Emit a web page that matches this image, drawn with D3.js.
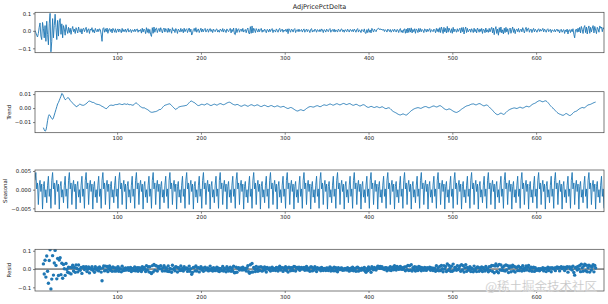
<!DOCTYPE html>
<meta charset="utf-8">
<style>
body { margin: 0; background: #fff; }
svg { display: block; }
.axis text { font: 5.4px "DejaVu Sans", sans-serif; fill: #222; }
.axis .domain { display: none; }
.axis line { stroke: #333; stroke-width: 0.6; }
.frame { fill: none; stroke: #444; stroke-width: 0.7; }
.ylab { font: 5.4px "DejaVu Sans", sans-serif; fill: #222; }
</style>
<html>
  <head>
    <script src="https://cdn.jsdelivr.net/npm/d3@7"></script>
  </head>
  <body>
    <script>
var width = 608, height = 304;

// observed AdjPricePctDelta, units of 0.001, index 2..681
var observedRaw = [
  2, -10, -25, -35, -15, 20, 45, -30, -50, 48, 15, -40, 30, -60, 55, -20, -80, 40, 100, -120,
  -60, 70, -40, 30, 95, 20, -50, 60, -30, 50, 70, -20, 40, -40, 30, 10, -25, 35, 5, -15,
  20, -10, 15, -20, 8, 25, -5, 10, -15, 18, 5, -12, 22, 0, -8, 12, -18, 10, 15, -5,
  8, 20, -10, 5, 12, -15, 10, 3, 18, -8, 6, -12, 14, 2, -6, 10, -4, 12, 5, -20,
  -60, 12, 18, -8, 12, -5, 16, -14, 6, 13, -4, 10, -12, 14, 5, -8, 12, -10, 3, 11,
  -7, 10, 3, -11, 14, -5, 7, -4, 10, -8, 5, 13, -7, 2, 8, -10, 5, 4, -5, 10,
  -4, 7, 11, -8, 5, -2, 8, -13, 15, -7, 10, 4, -16, 18, -9, 12, -14, 8, -22, -32,
  18, -14, 22, -8, 12, 16, -10, 6, 14, -5, 18, 3, -12, 9, 16, -7, 13, 4, -9, 15,
  -8, 11, 3, -14, 18, 0, 7, -10, 13, 5, -15, 10, 3, -7, 14, -4, 8, -11, 15, -5,
  7, 12, -10, 5, 16, -7, 10, -24, -12, 8, 14, -4, 18, -8, 5, 11, -10, 3, 15, -7,
  10, -5, 8, 14, -7, 3, 11, -8, 5, 13, -4, 7, -10, 10, 2, -5, 8, 11, -7, 3,
  -8, 10, 5, -4, 13, -7, 8, 3, -10, 11, 2, -5, 7, 14, -12, 8, -4, 16, -18, -22,
  15, -10, 7, 12, -8, 5, 10, -4, 14, -7, 3, 8, -11, 7, 16, -12, -18, 24, -14, 28,
  -12, 15, 5, -10, 13, 3, -7, 11, -5, 8, 14, -8, 5, -4, 10, 2, -11, 8, 5, -7,
  10, -4, 7, 13, -10, 5, 2, -7, 11, 3, -8, 7, 14, -5, 3, 10, -8, 5, -2, 8,
  -5, 11, -16, 12, 3, -8, 10, 5, -7, 8, 13, -10, 3, 7, -5, 10, -4, 2, 8, -7,
  5, 11, -8, 3, 10, -5, 7, 2, -10, 8, 13, -7, 3, -4, 10, 5, -8, 7, 3, -5,
  8, -4, 11, 5, -10, 7, 3, -7, 10, 2, -5, 8, 13, -8, 3, 7, -4, 10, -7, 5,
  2, -7, 10, 3, -5, 8, 11, -4, 5, -8, 7, 3, -5, 10, 2, -7, 8, 5, -4, 7,
  -5, 10, 3, -8, 7, 13, -7, 5, 2, -10, 8, 3, -5, 11, -12, -15, 7, -10, 12, -8,
  5, -12, 14, 3, -7, 10, 2, -5, 8, 11, 15, 7, 12, 5, 10, 3, 8, -4, 7, 2,
  -7, 10, 5, -4, 8, -8, 3, 7, -5, 10, 2, -7, 8, 5, -10, 7, 13, -8, 3, -11,
  6, 12, -14, 10, -12, 16, -9, 14, -7, 17, -12, 8, -5, 12, -14, 11, 4, -10, 14, -6,
  13, -5, 8, 3, -10, 11, 7, -7, 10, -4, 5, 13, -8, 7, 2, -5, 10, 3, -11, 14,
  -4, 12, -8, 18, -10, 22, 5, -15, 20, -6, 14, -12, 25, -8, 16, 4, -10, 12, -14, 20,
  -6, 10, 3, -8, 12, -4, 6, 15, -12, 18, -5, 20, -18, 8, 22, -10, 14, -6, 3, 10,
  -8, 12, 3, -10, 15, -5, 8, -12, 16, 6, -8, 11, -4, 14, -15, 10, 5, -11, 16, -7,
  6, -9, 14, -6, 10, 20, -12, 16, -22, 8, 24, -15, 10, -25, 18, -8, 22, -12, 6, -18,
  15, -10, 20, -6, 12, -20, 8, 16, -14, 5, 22, -9, 12, -16, 6, 10, -5, 14, -8, 3,
  10, -6, 18, 4, -12, 8, 20, -4, 12, 15, -8, 6, 10, -10, 5, 14, -6, 9, 2, -8,
  6, 12, -4, 9, -2, 5, 14, -6, 10, 3, -8, 7, 12, -5, 4, 9, -10, 6, 2, -4,
  8, -6, 5, 10, -3, 6, -12, 4, 9, -8, 3, 7, -15, 5, -5, 10, -18, 4, 6, -10,
  8, -5, 12, -20, -40, 5, 10, -8, 15, -6, 20, -12, 25, 8, -15, 18, 30, -10, 22, -18,
  12, 28, -14, 20, -6, 15, 30, -12, 25, 5, -16, 20, 10, -8, 28, 15, 22, -5, 18, 10
];

// trend, units of 0.001, index 12..671
var trendRaw = [
  -14, -15.5, -16.5, -16, -13, -9, -6, -4.7, -5.5, -6.5, -7.5, -8, -7, -5, -3, -1, 1, 3, 4, 5.5,
  7, 8.5, 10.5, 10, 8.5, 7, 6, 6.2, 6.8, 7.5, 7.3, 6.5, 5.5, 4.8, 4, 3.5, 3, 2.3, 1.6, 1.2,
  1, 1.5, 2.2, 2.7, 2.7, 2.4, 2.1, 2, 2, 2.3, 2.7, 3, 3.6, 4.3, 4.8, 5, 4.8, 4.5, 4.2, 4,
  4, 3.6, 3.2, 2.9, 2.7, 2.6, 2.5, 2.3, 2, 1.6, 1.2, 1, 0.6, 0.2, -0.2, -0.4, -0.1, 0.6, 1.3, 1.8,
  2, 2.1, 2, 1.9, 2, 2.3, 2.5, 2.5, 2.5, 2.7, 2.9, 3, 2.8, 2.6, 2.5, 2.6, 2.9, 3, 2.8, 2.6,
  3, 2.8, 2.5, 2.4, 2.5, 2.3, 2.1, 2, 2.4, 3, 3.7, 3.6, 3.2, 2.6, 2, 1.5, 1, 0.6, 0.3, 0,
  0.3, 0, -0.4, -0.7, -1, -1.4, -1.9, -2.4, -2.8, -3, -3, -2.9, -2.7, -2.6, -2.5, -2.3, -2, -1.6, -1.2, -1,
  -1, -0.4, 0.3, 1, 1.6, 2, 2.2, 2.4, 2.6, 2.8, 3, 3, 2.5, 1.8, 1.2, 0.6, 0, -0.6, -1, -0.6,
  0, 0.5, 0.8, 1, 1.2, 1.3, 1.4, 1.5, 1.6, 1.7, 1.9, 2, 2.5, 3.2, 3.9, 4.5, 4.9, 5, 4.6, 4.2,
  4, 3.5, 3, 2.5, 2, 1.8, 1.9, 2.2, 2.5, 2.7, 2.6, 2.4, 2.2, 2.4, 2.8, 3.1, 3, 2.7, 2.3, 2,
  1.8, 2, 2.3, 2.6, 2.8, 2.6, 2.3, 2.1, 2.3, 2.7, 3, 3.2, 3.1, 2.8, 2.5, 2.4, 2.6, 2.9, 3.3, 3.6,
  3.9, 4.1, 4.2, 4, 3.6, 3.2, 2.8, 2.5, 2.3, 2.2, 2.4, 2.6, 2.5, 2.2, 1.8, 1.5, 1.3, 1.4, 1.7, 2,
  2.2, 2.1, 1.8, 1.5, 1.3, 1.5, 1.9, 2.2, 2.4, 2.3, 2, 1.7, 1.6, 1.8, 2.1, 2.3, 2.2, 1.9, 1.5, 1.2,
  1.1, 1.3, 1.6, 1.9, 2, 1.8, 1.5, 1.2, 1, 1.1, 1.4, 1.7, 1.8, 1.6, 1.3, 1, 0.9, 1.1, 1.4, 1.6,
  1.5, 1.2, 0.9, 0.7, 0.8, 1, 1.2, 1.1, 0.8, 0.4, 0.1, -0.2, -0.3, -0.1, 0.2, 0.4, 0.3, 0, -0.4, -0.8,
  -1.2, -1.6, -1.9, -2.1, -2, -1.7, -1.4, -1.2, -1.3, -1.6, -1.8, -1.7, -1.3, -0.8, -0.3, 0.1, 0.5, 0.8, 1, 1.1,
  1, 0.8, 0.7, 0.8, 1.1, 1.4, 1.6, 1.7, 1.5, 1.2, 1, 1.1, 1.4, 1.8, 2.1, 2.3, 2.2, 2, 1.9, 2.1,
  2.4, 2.7, 2.9, 2.8, 2.5, 2.2, 2.1, 2.3, 2.6, 2.9, 3.1, 3, 2.7, 2.4, 2.3, 2.5, 2.8, 3.1, 3.3, 3.2,
  2.9, 2.6, 2.5, 2.7, 3, 3.2, 3.1, 2.8, 2.4, 2.1, 2, 2.2, 2.5, 2.7, 2.6, 2.3, 1.9, 1.6, 1.5, 1.7,
  2, 2.3, 2.4, 2.2, 1.8, 1.3, 0.9, 0.6, 0.5, 0.7, 1, 1.2, 1.1, 0.8, 0.5, 0.4, 0.6, 0.9, 1, 0.8,
  0.5, 0.3, 0.4, 0.7, 0.9, 0.8, 0.4, 0, -0.3, -0.4, -0.2, 0.1, 0.2, 0, -0.5, -1.1, -1.7, -2.2, -2.6, -2.9,
  -3.2, -3.5, -3.9, -4.3, -4.6, -4.8, -4.9, -4.7, -4.4, -4.2, -4.3, -4.6, -4.9, -5, -4.7, -4.2, -3.6, -3, -2.4, -1.9,
  -1.5, -1.1, -0.7, -0.4, -0.2, 0, 0.2, 0.3, 0.2, 0, -0.2, -0.1, 0.2, 0.5, 0.8, 1, 1.1, 1, 0.7, 0.4,
  0.2, 0.3, 0.6, 0.9, 1.2, 1.4, 1.5, 1.3, 1, 0.8, 0.9, 1.2, 1.5, 1.7, 1.6, 1.2, 0.7, 0.2, -0.3, -0.7,
  -1, -1.2, -1.1, -0.8, -0.6, -0.7, -1, -1.4, -1.8, -2.2, -2.5, -2.8, -3, -3.1, -2.9, -2.6, -2.2, -1.8, -1.3, -0.8,
  -0.4, 0, 0.4, 0.8, 1.2, 1.5, 1.7, 1.8, 2, 2.3, 2.6, 2.8, 2.9, 3, 2.8, 2.5, 2.3, 2.4, 2.7, 3,
  3.2, 3.1, 2.8, 2.4, 2, 1.7, 1.6, 1.8, 2.1, 2.2, 1.9, 1.4, 0.8, 0.2, -0.4, -1, -1.6, -2.3, -3, -3.6,
  -4.1, -4.5, -4.7, -4.6, -4.2, -3.8, -3.6, -3.8, -4.2, -4.5, -4.3, -3.8, -3.2, -2.6, -2, -1.6, -1.2, -0.9, -0.6, -0.4,
  -0.2, 0, 0.1, 0, -0.2, -0.3, -0.1, 0.2, 0.5, 0.6, 0.4, 0.1, 0, 0.2, 0.5, 0.9, 1.2, 1.3, 1.1, 0.9,
  1, 1.4, 1.9, 2.4, 2.8, 3.1, 3.3, 3.6, 4, 4.4, 4.8, 5.1, 5.3, 5.2, 4.9, 4.6, 4.5, 4.7, 5, 5.2,
  5, 4.6, 4, 3.3, 2.5, 1.8, 1.1, 0.5, 0, -0.6, -1.2, -1.9, -2.5, -3.1, -3.6, -4, -4.3, -4.5, -4.8, -5,
  -5.2, -5, -4.6, -4.1, -3.9, -4.2, -4.6, -5, -5.3, -5.2, -4.8, -4.2, -3.6, -3, -2.6, -2.4, -2.2, -1.8, -1.3, -0.8,
  -0.4, -0.1, 0.2, 0.4, 0.3, 0.1, 0.3, 0.8, 1.3, 1.8, 2.2, 2.4, 2.5, 2.7, 3, 3.3, 3.6, 3.9, 4.1, 4.3
];

// one seasonal cycle (period 20), units of 0.0001
var seasonalCycle = [25, 46, 2, 18, -40, 10, 25, -5, 15, -52, 8, 22, -20, 0, -35, 12, 36, -18, 2, -50];

var firstIndex = 2, trendStart = 12;
var xTicks = [100, 200, 300, 400, 500, 600];
var titleText = "AdjPricePctDelta";
var panelLabels = [null, "Trend", "Seasonal", "Resid"];
var yTickSets = [[-0.1, 0, 0.1], [-0.01, 0, 0.01], [-0.005, 0, 0.005], [-0.1, 0, 0.1]];
var yFormats = [".1f", ".2f", ".3f", ".1f"];

var idx = d3.range(firstIndex, firstIndex + observedRaw.length);
var observed = observedRaw.map(v => v / 1000);
var seasonal = idx.map((d, i) => seasonalCycle[i % seasonalCycle.length] / 10000);
var trend = idx.map(d => (d >= trendStart && d < trendStart + trendRaw.length) ? trendRaw[d - trendStart] / 1000 : null);
var resid = idx.map((d, i) => trend[i] == null ? null : observed[i] - trend[i] - seasonal[i]);

var panels = [
  {values: observed, top: 12.3, bottom: 52.7, yDomain: [-0.125, 0.106], labelX: 0},
  {values: trend, top: 91.7, bottom: 132.7, yDomain: [-0.0176, 0.0117], labelX: 9.5},
  {values: seasonal, top: 170, bottom: 211.7, yDomain: [-0.0059, 0.00527], labelX: 5.5},
  {values: resid, top: 249.3, bottom: 291, yDomain: [-0.12, 0.108], labelX: 9.5, scatter: true}
];

var blue = "#1f77b4";
var x = d3.scaleLinear().domain([firstIndex, firstIndex + observedRaw.length - 1]).range([35, 604]);

var svg = d3.select("body").append("svg")
    .attr("width", width).attr("height", height);

var minus = s => s.replace("-", "\u2212");

panels.forEach(function(p, k) {
  var y = d3.scaleLinear().domain(p.yDomain).range([p.bottom, p.top]);
  var g = svg.append("g");
  var pts = idx.map((d, i) => [d, p.values[i]]);

  g.append("g").attr("class", "axis")
    .attr("transform", "translate(0," + p.bottom + ")")
    .call(d3.axisBottom(x).tickValues(xTicks).tickSize(2).tickPadding(1.8));

  g.append("g").attr("class", "axis")
    .attr("transform", "translate(35,0)")
    .call(d3.axisLeft(y).tickValues(yTickSets[k]).tickSize(2).tickPadding(1.8)
      .tickFormat(v => minus(d3.format(yFormats[k])(Math.abs(v) < 1e-12 ? 0 : v))));

  var clip = "clip" + k;
  svg.append("clipPath").attr("id", clip).append("rect")
    .attr("x", 35).attr("y", p.top).attr("width", 569).attr("height", p.bottom - p.top);

  var plot = g.append("g").attr("clip-path", "url(#" + clip + ")");

  if (p.scatter) {
    plot.append("line")
      .attr("x1", x.range()[0]).attr("x2", x.range()[1])
      .attr("y1", y(0)).attr("y2", y(0))
      .attr("stroke", "#000").attr("stroke-width", 0.8);
    plot.selectAll("circle").data(pts.filter(d => d[1] != null)).enter()
      .append("circle")
      .attr("cx", d => x(d[0])).attr("cy", d => y(d[1]))
      .attr("r", 1.7).attr("fill", blue);
  } else {
    plot.append("path").datum(pts)
      .attr("fill", "none").attr("stroke", blue).attr("stroke-width", 0.9)
      .attr("stroke-linejoin", "round")
      .attr("d", d3.line().defined(d => d[1] != null).x(d => x(d[0])).y(d => y(d[1])));
  }

  g.append("rect").attr("class", "frame")
    .attr("x", 35).attr("y", p.top).attr("width", 569).attr("height", p.bottom - p.top);

  if (panelLabels[k]) {
    g.append("text").attr("class", "ylab")
      .attr("transform", "translate(" + p.labelX + "," + (p.top + p.bottom) / 2 + ") rotate(-90)")
      .attr("text-anchor", "middle").attr("dy", "0.35em")
      .text(panelLabels[k]);
  }
});

svg.append("text")
  .attr("x", (35 + 604) / 2).attr("y", 8.5)
  .attr("text-anchor", "middle")
  .style("font", "6.5px 'DejaVu Sans', sans-serif").attr("fill", "#222")
  .text(titleText);

svg.append("text")
  .attr("x", 597).attr("y", 291)
  .attr("text-anchor", "end")
  .style("font", "12.5px 'Noto Sans CJK SC', sans-serif")
  .attr("fill", "#bdbdbd").attr("stroke", "#fff").attr("stroke-width", 0.4).attr("stroke-opacity", 0.6)
  .text("@稀土掘金技术社区");
    </script>
  </body>
</html>
